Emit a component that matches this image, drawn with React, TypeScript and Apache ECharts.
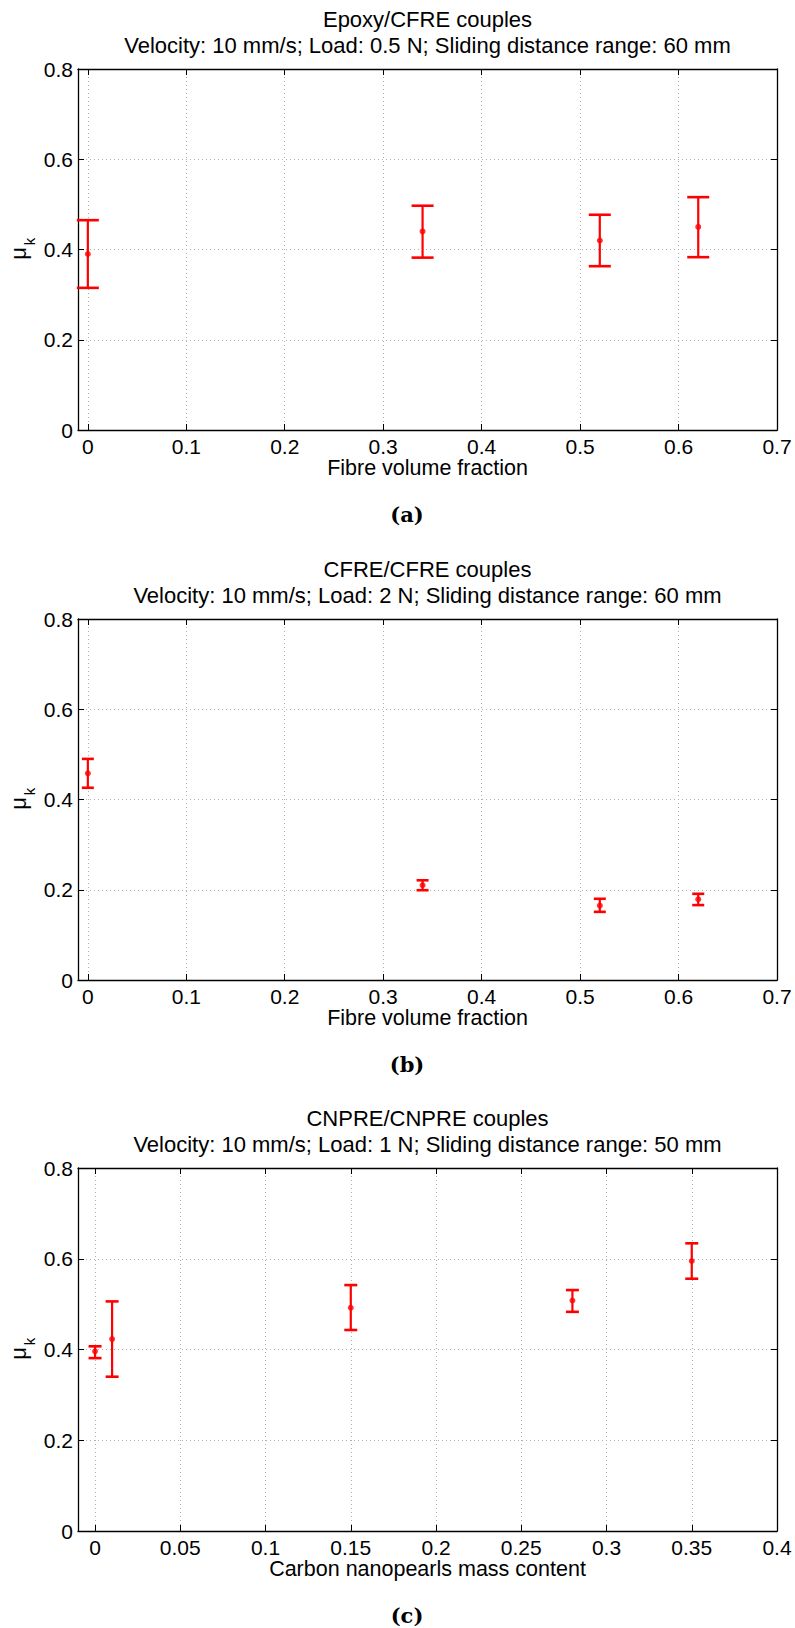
import React, { useEffect, useRef } from "react";
import * as echarts from "echarts";

// Panel (a): Epoxy/CFRE couples
const xA = [0, 0.34, 0.52, 0.62];
const meanA = [0.39, 0.44, 0.42, 0.45];
const lowA = [0.315, 0.382, 0.363, 0.383];
const highA = [0.465, 0.497, 0.477, 0.516];

// Panel (b): CFRE/CFRE couples
const xB = [0, 0.34, 0.52, 0.62];
const meanB = [0.458, 0.21, 0.165, 0.179];
const lowB = [0.426, 0.199, 0.151, 0.166];
const highB = [0.49, 0.221, 0.18, 0.191];

// Panel (c): CNPRE/CNPRE couples
const xC = [0, 0.01, 0.15, 0.28, 0.35];
const meanC = [0.396, 0.423, 0.492, 0.508, 0.595];
const lowC = [0.381, 0.34, 0.443, 0.483, 0.556];
const highC = [0.407, 0.506, 0.542, 0.531, 0.634];

const xTicksAB = [0, 0.1, 0.2, 0.3, 0.4, 0.5, 0.6, 0.7];
const xTicksC = [0, 0.05, 0.1, 0.15, 0.2, 0.25, 0.3, 0.35, 0.4];
const yTicks = [0, 0.2, 0.4, 0.6, 0.8];

const titles1 = ["Epoxy/CFRE couples", "CFRE/CFRE couples", "CNPRE/CNPRE couples"];
const titles2 = [
  "Velocity: 10 mm/s; Load: 0.5 N; Sliding distance range: 60 mm",
  "Velocity: 10 mm/s; Load: 2 N; Sliding distance range: 60 mm",
  "Velocity: 10 mm/s; Load: 1 N; Sliding distance range: 50 mm",
];
const xLabels = ["Fibre volume fraction", "Fibre volume fraction", "Carbon nanopearls mass content"];
const captions = ["(a)", "(b)", "(c)"];

const FONT = "'Liberation Sans', Arial, Helvetica, sans-serif";
const RED = "#ff0000";

export default function App() {
  const ref = useRef<HTMLDivElement>(null);

  useEffect(() => {
    if (!ref.current) return;
    const chart = echarts.init(ref.current, null, { renderer: "svg" });

    const panels = [
      { top: 69, height: 361, xs: xA, m: meanA, lo: lowA, hi: highA, xmax: 0.7, ticks: xTicksAB, cap: 11 },
      { top: 619, height: 361, xs: xB, m: meanB, lo: lowB, hi: highB, xmax: 0.7, ticks: xTicksAB, cap: 6 },
      { top: 1168, height: 363, xs: xC, m: meanC, lo: lowC, hi: highC, xmax: 0.4, ticks: xTicksC, cap: 6.5 },
    ];
    const LEFT = 78;
    const WIDTH = 699;

    const grids: any[] = [];
    const xAxes: any[] = [];
    const yAxes: any[] = [];
    const series: any[] = [];
    const graphics: any[] = [];

    const axisLine = { show: true, onZero: false, lineStyle: { color: "#000", width: 1.3 } };

    panels.forEach((p, i) => {
      grids.push({ left: LEFT, width: WIDTH, top: p.top, height: p.height, containLabel: false });
      xAxes.push({
        type: "value",
        gridIndex: i,
        position: "bottom",
        min: -0.01,
        max: p.xmax,
        axisLine,
        axisTick: { show: true, inside: true, length: 6, customValues: p.ticks, lineStyle: { color: "#000" } },
        axisLabel: {
          show: true,
          customValues: p.ticks,
          color: "#000",
          fontFamily: FONT,
          fontSize: 21,
          margin: 6,
        },
        splitLine: { show: true, lineStyle: { color: "#b0b0b0", type: [1, 3], width: 1 } },
      });
      xAxes.push({
        type: "value",
        gridIndex: i,
        position: "top",
        min: -0.01,
        max: p.xmax,
        axisLine,
        axisTick: { show: true, inside: true, length: 6, customValues: p.ticks, lineStyle: { color: "#000" } },
        axisLabel: { show: false },
        splitLine: { show: false },
      });
      yAxes.push({
        type: "value",
        gridIndex: i,
        position: "left",
        min: 0,
        max: 0.8,
        interval: 0.2,
        axisLine,
        axisTick: { show: true, inside: true, length: 6, lineStyle: { color: "#000" } },
        axisLabel: { color: "#000", fontFamily: FONT, fontSize: 21, margin: 5 },
        splitLine: { show: true, lineStyle: { color: "#b0b0b0", type: [1, 3], width: 1 } },
      });
      yAxes.push({
        type: "value",
        gridIndex: i,
        position: "right",
        min: 0,
        max: 0.8,
        interval: 0.2,
        axisLine,
        axisTick: { show: true, inside: true, length: 6, lineStyle: { color: "#000" } },
        axisLabel: { show: false },
        splitLine: { show: false },
      });

      const cap = p.cap;
      series.push({
        type: "custom",
        xAxisIndex: 2 * i,
        yAxisIndex: 2 * i,
        clip: false,
        dimensions: ["x", "lo", "hi"],
        encode: { x: 0, y: [1, 2] },
        data: p.xs.map((x, k) => [x, p.lo[k], p.hi[k]]),
        renderItem: (params: any, api: any) => {
          const x = api.value(0);
          const a = api.coord([x, api.value(1)]);
          const b = api.coord([x, api.value(2)]);
          const st = { stroke: RED, lineWidth: 2.2, fill: "none" };
          return {
            type: "group",
            children: [
              { type: "line", shape: { x1: a[0], y1: a[1], x2: b[0], y2: b[1] }, style: st },
              { type: "line", shape: { x1: a[0] - cap, y1: a[1], x2: a[0] + cap, y2: a[1] }, style: { ...st, lineWidth: 2.6 } },
              { type: "line", shape: { x1: b[0] - cap, y1: b[1], x2: b[0] + cap, y2: b[1] }, style: { ...st, lineWidth: 2.6 } },
            ],
          };
        },
        z: 3,
      });
      series.push({
        type: "scatter",
        xAxisIndex: 2 * i,
        yAxisIndex: 2 * i,
        symbol: "circle",
        symbolSize: 6,
        itemStyle: { color: RED },
        data: p.xs.map((x, k) => [x, p.m[k]]),
        z: 4,
      });

      const cx = LEFT + WIDTH / 2;
      const bottom = p.top + p.height;
      graphics.push({
        type: "text",
        x: cx,
        y: p.top - 50,
        style: { text: titles1[i], font: `22px ${FONT}`, fill: "#000", align: "center", verticalAlign: "middle" },
      });
      graphics.push({
        type: "text",
        x: cx,
        y: p.top - 24,
        style: { text: titles2[i], font: `22px ${FONT}`, fill: "#000", align: "center", verticalAlign: "middle" },
      });
      graphics.push({
        type: "text",
        x: cx,
        y: bottom + 38,
        style: { text: xLabels[i], font: `21.5px ${FONT}`, fill: "#000", align: "center", verticalAlign: "middle" },
      });
      graphics.push({
        type: "text",
        x: 407,
        y: bottom + 84,
        style: { text: captions[i], font: `bold 21px 'DejaVu Serif', 'Liberation Serif', serif`, fill: "#000", align: "center", verticalAlign: "middle" },
      });
      const cy = p.top + p.height / 2;
      graphics.push({
        type: "text",
        x: 18,
        y: cy + 4,
        rotation: Math.PI / 2,
        style: { text: "μ", font: `22px ${FONT}`, fill: "#000", align: "center", verticalAlign: "middle" },
      });
      graphics.push({
        type: "text",
        x: 29,
        y: cy - 8,
        rotation: Math.PI / 2,
        style: { text: "k", font: `15px ${FONT}`, fill: "#000", align: "center", verticalAlign: "middle" },
      });
    });

    chart.setOption({
      animation: false,
      backgroundColor: "#fff",
      grid: grids,
      xAxis: xAxes,
      yAxis: yAxes,
      series,
      graphic: graphics,
    });

    return () => chart.dispose();
  }, []);

  return <div ref={ref} style={{ position: "absolute", left: 0, top: 0, width: 795, height: 1628 }} />;
}
